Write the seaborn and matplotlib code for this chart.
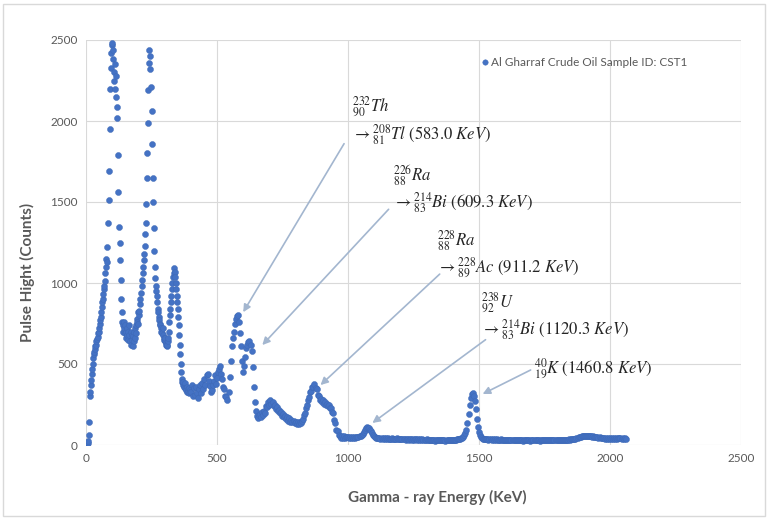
import numpy as np
import pandas as pd
import matplotlib
matplotlib.use("Agg")
import matplotlib.pyplot as plt
import seaborn as sns
from matplotlib.patches import Rectangle

# ---------------- data ----------------
# segment A: 0-398 keV, 2 keV per channel
seg_a_start, seg_a_step = 0, 2
counts_a = [
    5, 8, 12, 15, 22, 60, 140, 300, 330, 370,
    400, 440, 470, 500, 540, 560, 575, 590, 610, 620,
    640, 655, 665, 690, 700, 720, 745, 770, 790, 820,
    850, 880, 900, 930, 960, 980, 1010, 1060, 1100, 1150,
    1130, 1220, 1370, 1510, 1690, 1950, 2200, 2330, 2420, 2470,
    2480, 2440, 2380, 2300, 2250, 2200, 2350, 2280, 2150, 2085,
    2020, 1790, 1560, 1345, 1250, 1140, 1020, 900, 820, 760,
    740, 700, 760, 720, 690, 740, 700, 660, 720, 680,
    650, 700, 740, 680, 640, 700, 620, 680, 650, 610,
    670, 640, 700, 660, 720, 690, 740, 780, 760, 820,
    750, 800, 830, 870, 900, 940, 980, 1020, 1060, 1100,
    1140, 1180, 1230, 1300, 1370, 1490, 1650, 1800, 1990, 2190,
    2360, 2440, 2400, 2320, 2210, 2060, 1860, 1650, 1500, 1340,
    1200, 1100, 1030, 980, 950, 920, 880, 840, 820, 790,
    770, 750, 740, 720, 700, 690, 720, 680, 660, 650,
    640, 660, 630, 620, 610, 620, 640, 660, 700, 760,
    800, 840, 880, 920, 960, 1000, 1040, 1060, 1090, 1070,
    1040, 1000, 960, 920, 880, 840, 790, 740, 680, 620,
    560, 500, 450, 410, 390, 370, 390, 360, 380, 350,
    350, 340, 360, 330, 345, 330, 350, 320, 340, 330,
]
# segment B: 400-996 keV, 4 keV per point
seg_b_start, seg_b_step = 400, 4
counts_b = [
    330, 370, 300, 350, 310, 360, 320, 290, 345, 370,
    320, 385, 345, 410, 370, 430, 440, 395, 365, 330,
    340, 370, 395, 430, 375, 415, 450, 470, 485, 440,
    410, 360, 345, 300, 295, 280, 330, 420, 520, 610,
    660, 700, 745, 775, 795, 805, 760, 690, 610, 520,
    450, 490, 545, 600, 615, 635, 640, 620, 580, 480,
    360, 265, 210, 180, 165, 185, 190, 170, 205, 185,
    210, 200, 240, 235, 265, 250, 275, 255, 265, 240,
    250, 225, 235, 210, 215, 195, 205, 180, 190, 170,
    180, 160, 170, 150, 165, 145, 155, 140, 150, 135,
    145, 130, 140, 128, 142, 135, 150, 158, 185, 195,
    230, 245, 280, 295, 325, 335, 360, 355, 375, 350,
    345, 310, 305, 280, 285, 265, 275, 255, 265, 245,
    255, 240, 248, 230, 228, 205, 195, 155, 135, 95,
    85, 60, 58, 45, 55, 45, 55, 42, 52, 48,
]
# segment C: 1000-2060 keV, 4 keV per point
seg_c_start, seg_c_step = 1000, 4
counts_c = [
    50, 46, 52, 44, 48, 42, 50, 45, 48, 52,
    50, 55, 58, 62, 70, 80, 92, 102, 110, 108,
    104, 95, 85, 72, 62, 55, 50, 46, 44, 42,
    45, 40, 43, 38, 44, 40, 42, 37, 41, 39,
    40, 36, 42, 38, 35, 40, 37, 41, 36, 38,
    38, 34, 37, 40, 35, 33, 38, 36, 32, 35,
    36, 33, 37, 31, 35, 34, 30, 36, 32, 34,
    31, 35, 30, 33, 29, 34, 31, 30, 33, 28,
    32, 29, 31, 27, 33, 30, 28, 31, 29, 32,
    28, 30, 31, 27, 30, 29, 32, 30, 28, 31,
    30, 32, 31, 33, 35, 34, 37, 38, 42, 46,
    52, 60, 72, 95, 135, 190, 245, 290, 315, 320,
    305, 270, 220, 160, 110, 78, 60, 50, 44, 40,
    38, 36, 35, 37, 33, 35, 34, 32, 36, 33,
    34, 31, 35, 32, 33, 30, 34, 31, 32, 30,
    33, 30, 31, 29, 32, 30, 28, 31, 29, 30,
    31, 28, 30, 29, 32, 28, 30, 27, 31, 29,
    28, 30, 29, 31, 27, 30, 28, 29, 31, 28,
    30, 28, 29, 27, 30, 29, 31, 28, 30, 29,
    29, 31, 28, 30, 29, 32, 30, 29, 31, 30,
    31, 30, 32, 29, 31, 33, 30, 32, 31, 33,
    32, 34, 33, 35, 34, 36, 38, 40, 42, 45,
    48, 50, 52, 55, 54, 56, 58, 55, 57, 54,
    56, 53, 55, 52, 54, 50, 52, 48, 50, 46,
    47, 44, 45, 42, 44, 40, 42, 39, 41, 40,
    42, 38, 41, 40, 43, 39, 42, 40, 44, 41,
    43, 40, 42, 38, 41, 39,
]

x_ticks = [0, 500, 1000, 1500, 2000, 2500]
y_ticks = [0, 500, 1000, 1500, 2000, 2500]
series_label = "Al Gharraf Crude Oil Sample ID: CST1"
x_title = "Gamma - ray Energy (KeV)"
y_title = "Pulse Hight (Counts)"

peak_labels = [
    r"${}^{232}_{90}Th$" + "\n" + r"$\rightarrow{}^{208}_{81}Tl\ (583.0\ KeV)$",
    r"${}^{226}_{88}Ra$" + "\n" + r"$\rightarrow{}^{214}_{83}Bi\ (609.3\ KeV)$",
    r"${}^{228}_{88}Ra$" + "\n" + r"$\rightarrow{}^{228}_{89}Ac\ (911.2\ KeV)$",
    r"${}^{238}_{92}U$" + "\n" + r"$\rightarrow{}^{214}_{83}Bi\ (1120.3\ KeV)$",
    r"${}^{40}_{19}K\ (1460.8\ KeV)$",
]

# ---------------- build table ----------------
def seg(start, step, vals):
    return pd.DataFrame({"energy": start + step * np.arange(len(vals)), "counts": vals})

df = pd.concat([seg(seg_a_start, seg_a_step, counts_a),
                seg(seg_b_start, seg_b_step, counts_b),
                seg(seg_c_start, seg_c_step, counts_c)], ignore_index=True)

# ---------------- style ----------------
sns.set_theme(style="white")
plt.rcParams["font.family"] = ["Lato", "DejaVu Sans"]
plt.rcParams["mathtext.fontset"] = "stix"

fig = plt.figure(figsize=(7.69, 5.19), dpi=100)
W, H = 769, 519
ax = fig.add_axes([86 / W, 1 - 445 / H, (741 - 86) / W, (445 - 40) / H])

sns.scatterplot(data=df, x="energy", y="counts", ax=ax, color="#4472C4",
                s=19, linewidth=0.3, edgecolor="#3D68B5", label=series_label, zorder=3)

ax.set_xlim(0, 2500)
ax.set_ylim(0, 2500)
ax.set_xticks(x_ticks)
ax.set_yticks(y_ticks)
ax.grid(True, color="#D9D9D9", linewidth=0.8, zorder=0)
ax.set_axisbelow(True)
for s in ax.spines.values():
    s.set_visible(False)
ax.tick_params(axis="both", length=0, labelsize=8.5, labelcolor="#595959", pad=6)

ax.set_xlabel("")
ax.set_ylabel("")
fig.text(437 / W, 1 - 497 / H, x_title, ha="center", va="center",
         fontsize=11, fontweight="bold", color="#595959")
fig.text(27 / W, 1 - 272 / H, y_title, ha="center", va="center", rotation=90,
         fontsize=11, fontweight="bold", color="#595959")

leg = ax.legend(loc="center left", bbox_to_anchor=((474 - 86) / 655, (445 - 62) / 405),
                frameon=False, fontsize=8.5, handletextpad=0.0, borderaxespad=0,
                markerscale=0.9, handlelength=1.0)
for t in leg.get_texts():
    t.set_color("#595959")

# annotations: (text left/top, arrow tail, arrow head) in data units
text_pos = [(1017, 2160), (1170, 1740), (1338, 1340), (1506, 955), (1709, 545)]
tails = [(985, 1860), (1155, 1455), (1350, 1055), (1525, 650), (1697, 463)]
heads = [(600, 820), (673, 617), (895, 370), (1093, 136), (1514, 315)]
for lab, tp, tl, hd in zip(peak_labels, text_pos, tails, heads):
    ax.text(tp[0], tp[1], lab, ha="left", va="top", fontsize=12, color="#262626",
            linespacing=1.15, zorder=5)
    ax.annotate("", xy=hd, xytext=tl,
                arrowprops=dict(arrowstyle="-|>", color="#A3B6CF", lw=1.2,
                                mutation_scale=11, shrinkA=0, shrinkB=0), zorder=4)

fig.patches.append(Rectangle((3 / W, 3 / H), 1 - 7 / W, 1 - 7 / H, transform=fig.transFigure,
                             fill=False, edgecolor="#D9D9D9", linewidth=1.0))

fig.savefig("out.png", dpi=100, facecolor="white")
